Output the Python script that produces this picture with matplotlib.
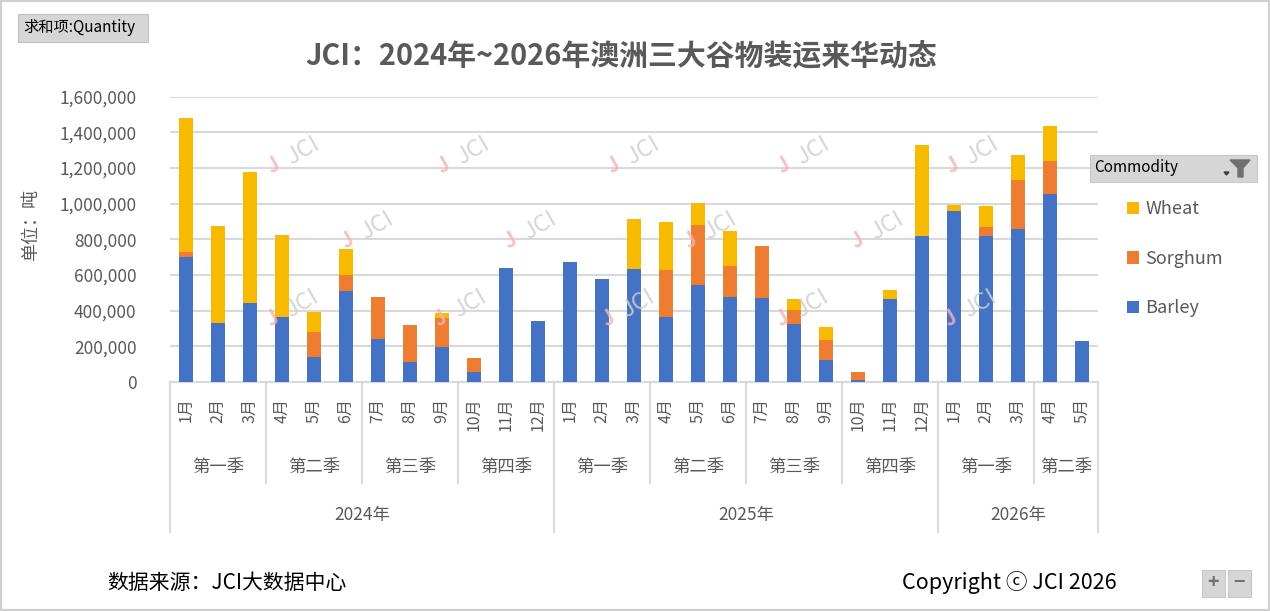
import numpy as np
import matplotlib
matplotlib.use("Agg")
import matplotlib.pyplot as plt
from matplotlib.patches import Rectangle, Polygon
from matplotlib.transforms import blended_transform_factory

plt.rcParams['font.family'] = ['Noto Sans CJK SC', 'DejaVu Sans']

# ---- data (tonnes) ----
months = [f"{m}月" for m in range(1, 13)] * 2 + [f"{m}月" for m in range(1, 6)]
quarters = ["第一季", "第二季", "第三季", "第四季"] * 2 + ["第一季", "第二季"]
quarter_len = [3, 3, 3, 3] * 2 + [3, 2]
years = ["2024年", "2025年", "2026年"]
year_len = [12, 12, 5]

barley = np.array([703, 331, 445, 364, 140, 512, 243, 112, 198, 56, 639, 344,
                   673, 578, 634, 364, 544, 477, 471, 325, 123, 11, 465, 819,
                   959, 819, 858, 1054, 230]) * 1000
sorghum = np.array([26, 0, 0, 0, 140, 88, 234, 208, 163, 80, 0, 0,
                    0, 0, 0, 264, 336, 173, 292, 79, 113, 45, 0, 0,
                    0, 50, 275, 185, 0]) * 1000
wheat = np.array([751, 544, 733, 460, 114, 146, 0, 0, 28, 0, 0, 0,
                  0, 0, 280, 269, 124, 197, 0, 61, 72, 0, 51, 510,
                  34, 118, 140, 197, 0]) * 1000

c_barley = "#4472C4"
c_sorghum = "#ED7D31"
c_wheat = "#F7BA00"
gray_txt = "#595959"
grid_c = "#D9D9D9"

W, H = 1270, 611
fig = plt.figure(figsize=(W / 100, H / 100), dpi=100)
ax = fig.add_axes([170 / W, 1 - 382 / H, (1098 - 170) / W, (382 - 96.7) / H])

x = np.arange(len(months))
bw = 0.44
b1 = ax.bar(x, barley, bw, color=c_barley, label="Barley", zorder=3)
b2 = ax.bar(x, sorghum, bw, bottom=barley, color=c_sorghum, label="Sorghum", zorder=3)
b3 = ax.bar(x, wheat, bw, bottom=barley + sorghum, color=c_wheat, label="Wheat", zorder=3)

ax.set_xlim(-0.5, len(months) - 0.5)
ax.set_ylim(0, 1600000)
ax.set_yticks(np.arange(0, 1600001, 200000))
ax.set_yticklabels([f"{v:,}" for v in range(0, 1600001, 200000)])
ax.yaxis.grid(True, color=grid_c, linewidth=1.5, zorder=0)
ax.set_axisbelow(True)
for s in ["top", "right", "left"]:
    ax.spines[s].set_visible(False)
ax.spines["bottom"].set_color(grid_c)
ax.spines["bottom"].set_linewidth(1.5)
ax.tick_params(axis="y", length=0, pad=24, labelsize=12.5, labelcolor=gray_txt)
ax.tick_params(axis="x", length=0, labelbottom=False)

# ---- multi level category axis ----
tr = blended_transform_factory(ax.transData, ax.transAxes)
for i, m in enumerate(months):
    ax.text(i, -0.055, m, rotation=90, ha="center", va="top", fontsize=11.5,
            color=gray_txt, transform=tr)

q_depth, y_depth = -0.354, -0.526
start = 0
for q, n in zip(quarters, quarter_len):
    ax.text(start + (n - 1) / 2, -0.298, q, ha="center", va="center", fontsize=12.5,
            color=gray_txt, transform=tr)
    ax.plot([start - 0.5, start - 0.5], [0, q_depth], color=grid_c, lw=1.5,
            transform=tr, clip_on=False)
    start += n
start = 0
for yl, n in zip(years, year_len):
    ax.text(start + (n - 1) / 2, -0.466, yl, ha="center", va="center", fontsize=12.5,
            color=gray_txt, transform=tr)
    ax.plot([start - 0.5, start - 0.5], [0, y_depth], color=grid_c, lw=1.5,
            transform=tr, clip_on=False)
    start += n
ax.plot([start - 0.5, start - 0.5], [0, y_depth], color=grid_c, lw=1.5,
        transform=tr, clip_on=False)

# ---- watermarks ----
wm = [(293, 157), (463, 157), (633, 157), (803, 157), (972, 157),
      (367, 232), (530, 232), (710, 232), (877, 232),
      (292, 310), (460, 310), (628, 310), (802, 310), (970, 310)]
for px, py in wm:
    fig.text((px + 10) / W, 1 - (py - 6) / H, "JCI", rotation=30, fontsize=17,
             color="#CFCFCF", alpha=0.85, ha="center", va="center", zorder=5)
    fig.text((px - 20) / W, 1 - (py + 8) / H, "J", rotation=30, fontsize=15,
             color="#F4B4B4", alpha=0.8, ha="center", va="center", zorder=5,
             fontweight="bold")

# ---- titles and texts ----
fig.text(621 / W, 1 - 55 / H, "JCI：2024年~2026年澳洲三大谷物装运来华动态",
         ha="center", va="center", fontsize=20.8, fontweight="bold", color=gray_txt)
fig.text(31 / W, 1 - 225 / H, "单位：吨", rotation=90, ha="center", va="center",
         fontsize=13, color=gray_txt)
fig.text(107 / W, 1 - 583 / H, "数据来源：JCI大数据中心", ha="left", va="center",
         fontsize=15, color="black")
fig.text(902 / W, 1 - 582 / H, "Copyright ⓒ JCI 2026", ha="left", va="center",
         fontsize=15.5, color="black")

# pivot buttons
fig.patches.append(Rectangle((18 / W, 1 - 42 / H), 130 / W, 28 / H, transform=fig.transFigure,
                             facecolor="#D6D6D6", edgecolor="#C0C0C0", lw=0.8))
fig.text(23 / W, 1 - 28 / H, "求和项:Quantity", ha="left", va="center", fontsize=11, color="black")
fig.patches.append(Rectangle((1090 / W, 1 - 182 / H), 167 / W, 27 / H, transform=fig.transFigure,
                             facecolor="#D6D6D6", edgecolor="#C8C8C8", lw=0.8))
fig.text(1094 / W, 1 - 168 / H, "Commodity", ha="left", va="center", fontsize=11, color="black")
fig.patches.append(Polygon([(1230 / W, 1 - 160 / H), (1250 / W, 1 - 160 / H),
                            (1243 / W, 1 - 168 / H), (1243 / W, 1 - 177 / H),
                            (1238 / W, 1 - 177 / H), (1238 / W, 1 - 168 / H)],
                           closed=True, transform=fig.transFigure, color="#707070"))
fig.patches.append(Polygon([(1224 / W, 1 - 172 / H), (1229 / W, 1 - 172 / H), (1226.5 / W, 1 - 175 / H)],
                           closed=True, transform=fig.transFigure, color="#404040"))
for bx, sym in [(1202, "+"), (1228, "−")]:
    fig.patches.append(Rectangle((bx / W, 1 - 597 / H), 23 / W, 27 / H, transform=fig.transFigure,
                                 facecolor="#D6D6D6", edgecolor="#C8C8C8", lw=0.8))
    fig.text((bx + 11.5) / W, 1 - 583 / H, sym, ha="center", va="center", fontsize=14,
             color="#707070", fontweight="bold")

# legend
fig.legend(handles=[b3, b2, b1], labels=["Wheat", "Sorghum", "Barley"], loc="upper left",
           bbox_to_anchor=(1111 / W, 1 - 184 / H), frameon=False, fontsize=13,
           handlelength=0.65, handleheight=0.65, handletextpad=0.35, labelspacing=1.75,
           labelcolor=gray_txt)

# outer border
fig.patches.append(Rectangle((0, 0), 1, 1, transform=fig.transFigure, fill=False,
                             edgecolor="#D0D0D0", lw=3))

fig.savefig("out.png", dpi=100)
